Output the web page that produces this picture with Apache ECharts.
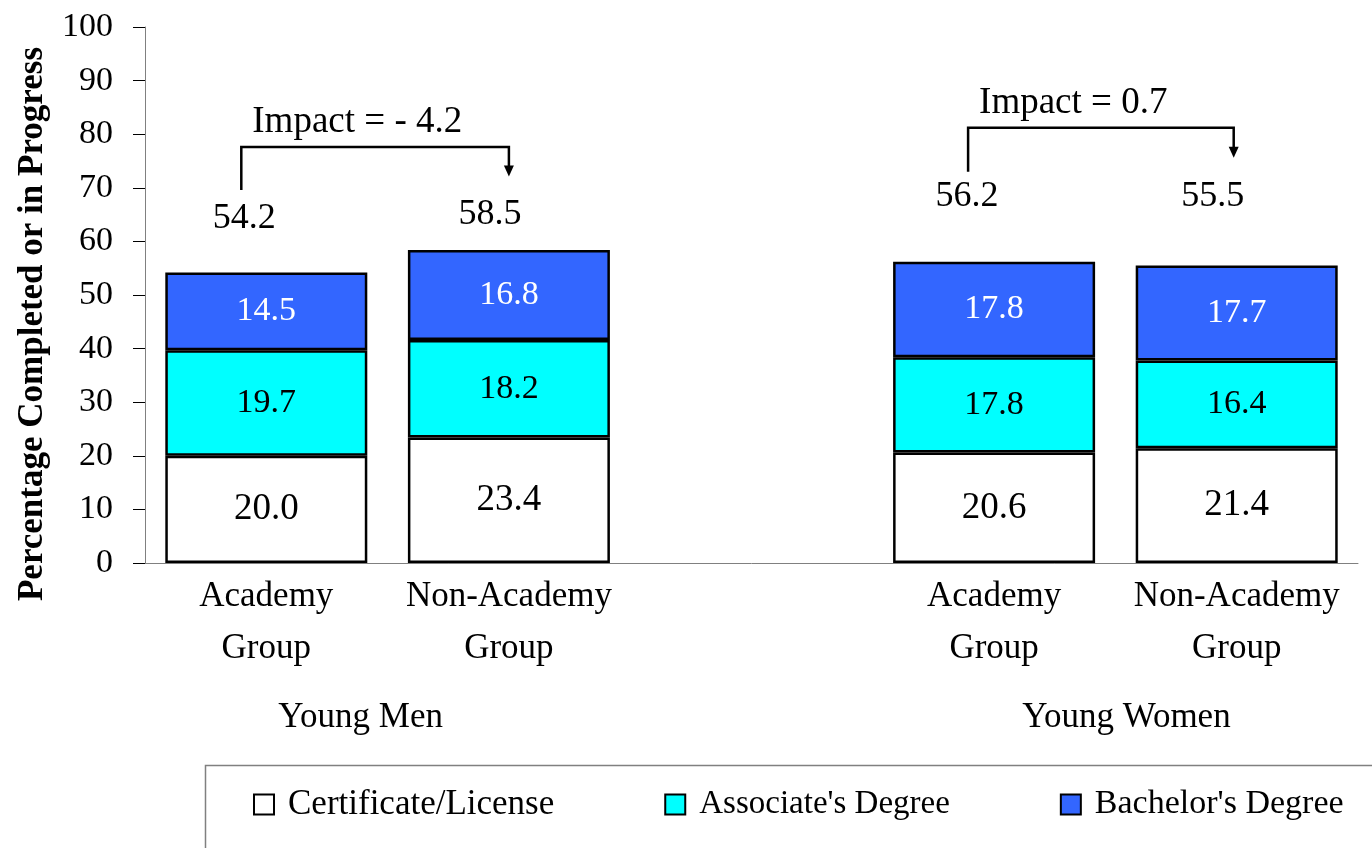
<!DOCTYPE html>
<html>
<head>
<meta charset="utf-8">
<script src="https://cdn.jsdelivr.net/npm/echarts@6/dist/echarts.min.js"></script>
<style>
  html, body { margin: 0; padding: 0; background: #fff; }
  #chart { width: 1372px; height: 848px; }
</style>
</head>
<body>
<div id="chart"></div>
<script>
// categories (middle one is an empty spacer between the two groups)
const categories = ['Academy\nGroup', 'Non-Academy\nGroup', '', 'Academy\nGroup', 'Non-Academy\nGroup'];
const yTicks = [0, 10, 20, 30, 40, 50, 60, 70, 80, 90, 100];

// stacked series values
const certificate = [20.0, 23.4, '-', 20.6, 21.4];
const associate = [19.7, 18.2, '-', 17.8, 16.4];
const bachelor = [14.5, 16.8, '-', 17.8, 17.7];
const totals = [54.2, 58.5, null, 56.2, 55.5];

const groups = ['Young Men', 'Young Women'];
const impacts = ['Impact = - 4.2', 'Impact = 0.7'];

const FONT = "'Liberation Serif', 'Times New Roman', serif";

const chart = echarts.init(document.getElementById('chart'));

function segment(name, data, color, labelColor, fontSize) {
  return {
    name: name,
    type: 'bar',
    stack: 'total',
    data: data,
    barWidth: 202,
    itemStyle: { color: color, borderColor: '#000', borderWidth: 2.5 },
    label: {
      show: true,
      position: 'inside',
      color: labelColor,
      fontFamily: FONT,
      fontSize: fontSize,
      formatter: (p) => p.value.toFixed(1),
    },
    emphasis: { disabled: true },
  };
}

const option = {
  animation: false,
  backgroundColor: '#fff',
  grid: { left: 145, right: 14, top: 27, bottom: 285 },
  xAxis: {
    type: 'category',
    data: categories,
    axisLine: { lineStyle: { color: '#808080', width: 1 } },
    axisTick: { show: false },
    axisLabel: {
      color: '#000',
      fontFamily: FONT,
      fontSize: 35,
      lineHeight: 52,
      margin: 8,
      interval: 0,
    },
  },
  yAxis: {
    type: 'value',
    min: yTicks[0],
    max: yTicks[yTicks.length - 1],
    interval: 10,
    splitLine: { show: false },
    axisLine: { show: true, lineStyle: { color: '#808080', width: 1 } },
    axisTick: { show: true, length: 12, lineStyle: { color: '#000' } },
    axisLabel: { color: '#000', fontFamily: FONT, fontSize: 34, margin: 32 },
  },
  legend: {
    left: 253,
    top: 787,
    padding: 0,
    itemWidth: 20,
    itemHeight: 20,
    itemGap: 110,
    icon: 'rect',
    itemStyle: { borderColor: '#000', borderWidth: 2 },
    textStyle: { fontFamily: FONT, fontSize: 35, color: '#000', padding: [0, 0, 0, 9] },
    data: [
      'Certificate/License',
      { name: "Associate's Degree", textStyle: { fontSize: 33 } },
      { name: "Bachelor's Degree", textStyle: { fontSize: 34 } },
    ],
  },
  series: [
    segment('Certificate/License', certificate, '#ffffff', '#000', 37),
    segment("Associate's Degree", associate, '#00ffff', '#000', 34),
    segment("Bachelor's Degree", bachelor, '#3366ff', '#fff', 34),
  ],
};

chart.setOption(option);

// annotations: totals, impact brackets, group names, legend frame
function px(cat, val) {
  return chart.convertToPixel({ gridIndex: 0 }, [cat, val]);
}
const totalLabelY = [64.2, 65.0, null, 68.3, 68.3];
const totalLabelDx = [-22, -19, null, -27, -24];
const graphics = [];
totals.forEach((t, i) => {
  if (t == null) return;
  const p = px(i, totalLabelY[i]);
  graphics.push({
    type: 'text', x: p[0] + totalLabelDx[i], y: p[1],
    style: { text: t.toFixed(1), font: '36px ' + FONT, fill: '#000', textAlign: 'center', textVerticalAlign: 'middle' },
  });
});

const brackets = [
  { from: 0, to: 1, dxL: -25, dxR: 0, top: 77.6, leftEnd: 69.6, tip: 72.1, textVal: 82.3 },
  { from: 3, to: 4, dxL: -26, dxR: -3, top: 81.2, leftEnd: 73.0, tip: 75.6, textVal: 85.7 },
];
brackets.forEach((b, k) => {
  const xl = px(b.from, 0)[0] + b.dxL;
  const xr = px(b.to, 0)[0] + b.dxR;
  const yTop = px(0, b.top)[1];
  const yLeft = px(0, b.leftEnd)[1];
  const yTip = px(0, b.tip)[1];
  graphics.push({
    type: 'polyline',
    shape: { points: [[xl, yLeft], [xl, yTop], [xr, yTop], [xr, yTip - 8]] },
    style: { stroke: '#000', lineWidth: 2.5, fill: null },
  });
  graphics.push({
    type: 'polygon',
    shape: { points: [[xr - 5, yTip - 11], [xr + 5, yTip - 11], [xr, yTip]] },
    style: { fill: '#000' },
  });
  graphics.push({
    type: 'text', x: xl + 11, y: px(0, b.textVal)[1],
    style: { text: impacts[k], font: '37px ' + FONT, fill: '#000', textAlign: 'left', textVerticalAlign: 'middle' },
  });
});

const groupCenters = [[0, 1, -27], [3, 4, 11]];
groupCenters.forEach((g, k) => {
  const x = (px(g[0], 0)[0] + px(g[1], 0)[0]) / 2 + g[2];
  graphics.push({
    type: 'text', x: x, y: 718,
    style: { text: groups[k], font: '35px ' + FONT, fill: '#000', textAlign: 'center', textVerticalAlign: 'middle' },
  });
});

graphics.push({
  type: 'text', x: 33, y: 324, rotation: Math.PI / 2,
  style: { text: 'Percentage Completed or in Progress', font: 'bold 35px ' + FONT, fill: '#000', textAlign: 'center', textVerticalAlign: 'middle' },
});

// legend frame running off the right and bottom edges
graphics.push({
  type: 'rect', z: -1,
  shape: { x: 205.5, y: 765.5, width: 1300, height: 200 },
  style: { fill: null, stroke: '#808080', lineWidth: 1.5 },
});

chart.setOption({ graphic: graphics });
</script>
</body>
</html>
